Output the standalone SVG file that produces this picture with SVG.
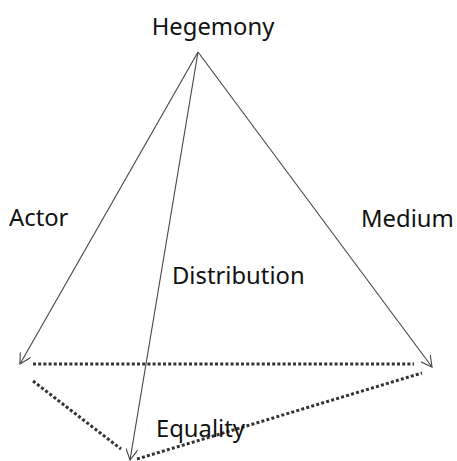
<svg xmlns="http://www.w3.org/2000/svg" width="457" height="461" viewBox="0 0 457 461">
<style>
text{font-family:"Noto Sans","Open Sans","DejaVu Sans",sans-serif;font-size:23.8px;fill:#111}
.arr{stroke:#444;stroke-width:1.1;fill:none;marker-end:url(#ah)}
.dot{stroke:#333;stroke-width:3;stroke-dasharray:3 2.2;fill:none}
</style>
<defs>
<marker id="ah" viewBox="0 0 12 12" refX="11" refY="6" markerWidth="12" markerHeight="12" markerUnits="userSpaceOnUse" orient="auto">
<path d="M0,0 L11,6 L0,12" fill="none" stroke="#444" stroke-width="1.1"/>
</marker>
</defs>
<g id="connectors">
<line class="arr" x1="198" y1="52" x2="20" y2="364"/>
<line class="arr" x1="198" y1="52" x2="432" y2="367"/>
<line class="arr" x1="198" y1="52" x2="130" y2="460"/>
<line class="dot" x1="33" y1="364" x2="414" y2="364"/>
<line class="dot" x1="33" y1="381" x2="121" y2="449"/>
<line class="dot" x1="137" y1="459" x2="422" y2="373"/>
</g>
<g id="hegemony"><text x="213" y="35" text-anchor="middle">Hegemony</text></g>
<g id="actor"><text x="9" y="226">Actor</text></g>
<g id="medium"><text x="361" y="227">Medium</text></g>
<g id="distribution"><text x="172" y="284">Distribution</text></g>
<g id="equality"><text x="156" y="437">Equality</text></g>
</svg>
